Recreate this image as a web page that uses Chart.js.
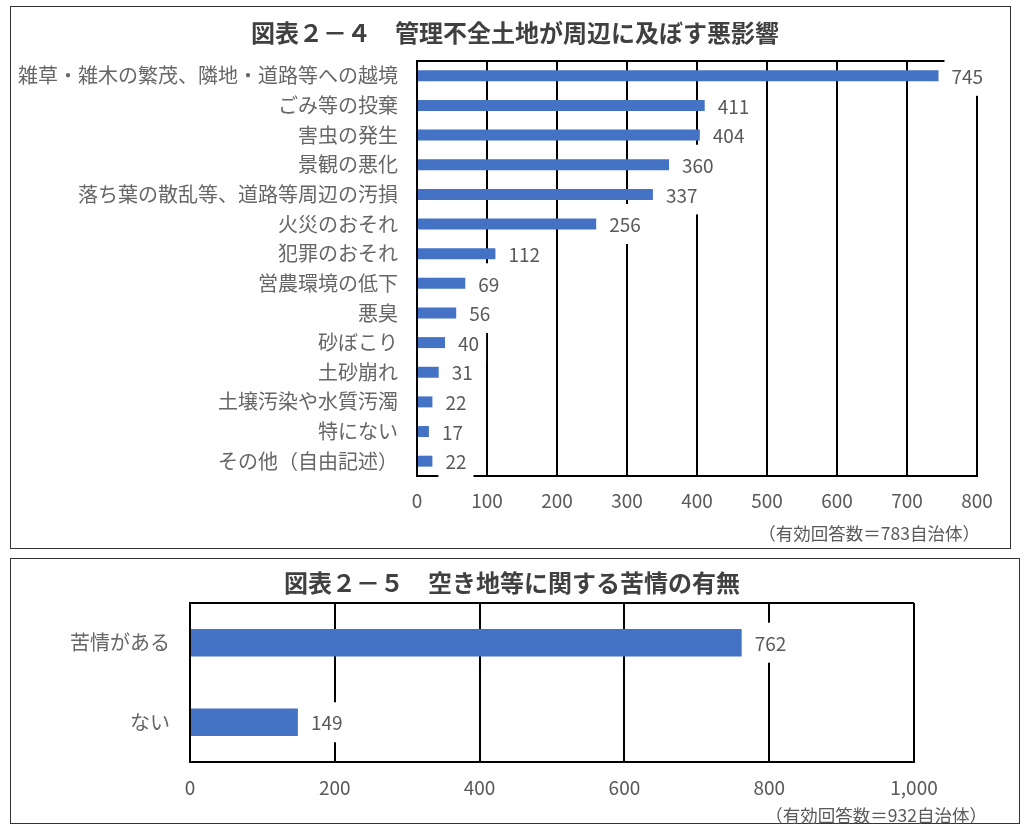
<!DOCTYPE html>
<html lang="ja">
<head>
<meta charset="utf-8">
<script src="https://cdn.jsdelivr.net/npm/chart.js@4.4.0/dist/chart.umd.min.js"></script>
<style>
  body { margin: 0; background: #fff; font-family: "Noto Sans CJK JP", sans-serif; }
  .panel { position: absolute; border: 1.5px solid #333; box-sizing: border-box; background: #fff; }
  #p1 { left: 10px; top: 6px; width: 1001px; height: 543px; }
  #p2 { left: 10px; top: 558px; width: 1010px; height: 266px; }
  .box { position: absolute; left: 0; top: 0; right: 0; bottom: 0; }
  .title { position: absolute; font-size: 24px; line-height: 28px; font-weight: bold; color: #404040; text-align: center; white-space: nowrap; }
  #t1 { left: 9px; right: 0; top: 10.5px; }
  #t2 { left: 0; right: 6px; top: 8.5px; }
  .note { position: absolute; font-size: 17.5px; color: #595959; white-space: nowrap; }
  #n1 { right: 30px; top: 513px; }
  #n2 { right: 32px; top: 243px; }
</style>
</head>
<body>
<div class="panel" id="p1">
  <div class="box"><canvas id="chart1"></canvas></div>
  <div class="title" id="t1"></div>
  <div class="note" id="n1">（有効回答数＝783自治体）</div>
</div>
<div class="panel" id="p2">
  <div class="box"><canvas id="chart2"></canvas></div>
  <div class="title" id="t2"></div>
  <div class="note" id="n2">（有効回答数＝932自治体）</div>
</div>
<script>
// ===============================
// DONNEES
// ===============================
const title1 = '図表２－４　管理不全土地が周辺に及ぼす悪影響';
const labels1 = [
  '雑草・雑木の繁茂、隣地・道路等への越境',
  'ごみ等の投棄',
  '害虫の発生',
  '景観の悪化',
  '落ち葉の散乱等、道路等周辺の汚損',
  '火災のおそれ',
  '犯罪のおそれ',
  '営農環境の低下',
  '悪臭',
  '砂ぼこり',
  '土砂崩れ',
  '土壌汚染や水質汚濁',
  '特にない',
  'その他（自由記述）'
];
const values1 = [745, 411, 404, 360, 337, 256, 112, 69, 56, 40, 31, 22, 17, 22];
const max1 = 800;
const step1 = 100;

const title2 = '図表２－５　空き地等に関する苦情の有無';
const labels2 = ['苦情がある', 'ない'];
const values2 = [762, 149];
const max2 = 1000;
const step2 = 200;

const FONT = '"Noto Sans CJK JP", "Noto Sans", sans-serif';
const BLUE = '#4472C4';
const GREY = '#595959';
const LABEL_GREY = '#666666';

Chart.defaults.font.family = FONT;
Chart.defaults.color = GREY;

// ===============================
// PLUGIN : cadre + etiquettes
// ===============================
const valueLabels = {
  id: 'valueLabels',
  beforeDatasetsDraw(chart, args, opts) {
    const { ctx, chartArea: a } = chart;
    ctx.save();
    // trait du haut du cadre
    ctx.strokeStyle = '#000';
    ctx.lineWidth = 2;
    ctx.beginPath();
    ctx.moveTo(a.left, a.top);
    ctx.lineTo(a.right, a.top);
    ctx.stroke();
    // fonds blancs des etiquettes
    ctx.font = `${opts.size}px ${FONT}`;
    ctx.fillStyle = '#fff';
    chart.getDatasetMeta(0).data.forEach((bar, i) => {
      const txt = String(chart.data.datasets[0].data[i]);
      const w = ctx.measureText(txt).width;
      const x = bar.x + opts.gap;
      ctx.fillRect(x - opts.padX, bar.y - opts.padY, w + 2 * opts.padX, 2 * opts.padY);
    });
    ctx.restore();
  },
  afterDatasetsDraw(chart, args, opts) {
    const { ctx } = chart;
    ctx.save();
    ctx.font = `${opts.size}px ${FONT}`;
    ctx.fillStyle = GREY;
    ctx.textAlign = 'left';
    ctx.textBaseline = 'middle';
    chart.getDatasetMeta(0).data.forEach((bar, i) => {
      ctx.fillText(String(chart.data.datasets[0].data[i]), bar.x + opts.gap, bar.y + 1);
    });
    ctx.restore();
  }
};

function makeChart(canvas, cfg) {
  return new Chart(canvas, {
    type: 'bar',
    data: {
      labels: cfg.labels,
      datasets: [{
        data: cfg.values,
        backgroundColor: BLUE,
        barPercentage: cfg.barPct,
        categoryPercentage: 1
      }]
    },
    options: {
      indexAxis: 'y',
      responsive: true,
      maintainAspectRatio: false,
      animation: false,
      layout: { padding: { left: 0, right: cfg.right, top: cfg.top, bottom: 0 } },
      plugins: {
        legend: { display: false },
        tooltip: { enabled: false },
        title: { display: false },
        valueLabels: { size: 19, gap: 13, padX: 7, padY: 20 }
      },
      scales: {
        x: {
          min: 0,
          max: cfg.max,
          ticks: {
            stepSize: cfg.step,
            padding: cfg.tickPadX,
            font: { size: 19 },
            color: GREY,
            callback: v => v.toLocaleString('en-US')
          },
          grid: { color: '#000', lineWidth: 2, drawTicks: false },
          border: { display: true, color: '#000', width: 2 },
          afterFit: s => { s.height = cfg.xHeight; }
        },
        y: {
          ticks: { padding: cfg.tickPadY, font: { size: 20 }, color: LABEL_GREY },
          grid: { display: false, drawTicks: false },
          border: { display: true, color: '#000', width: 2 },
          afterFit: s => { s.width = cfg.yWidth; }
        }
      }
    },
    plugins: [valueLabels]
  });
}

document.getElementById('t1').textContent = title1;
document.getElementById('t2').textContent = title2;

makeChart(document.getElementById('chart1'), {
  labels: labels1, values: values1,
  max: max1, step: step1, barPct: 0.37,
  top: 54, right: 33, yWidth: 406, xHeight: 72,
  tickPadX: 13, tickPadY: 19
});

makeChart(document.getElementById('chart2'), {
  labels: labels2, values: values2,
  max: max2, step: step2, barPct: 0.345,
  top: 44, right: 105, yWidth: 179, xHeight: 61,
  tickPadX: 14, tickPadY: 20
});
</script>
</body>
</html>
